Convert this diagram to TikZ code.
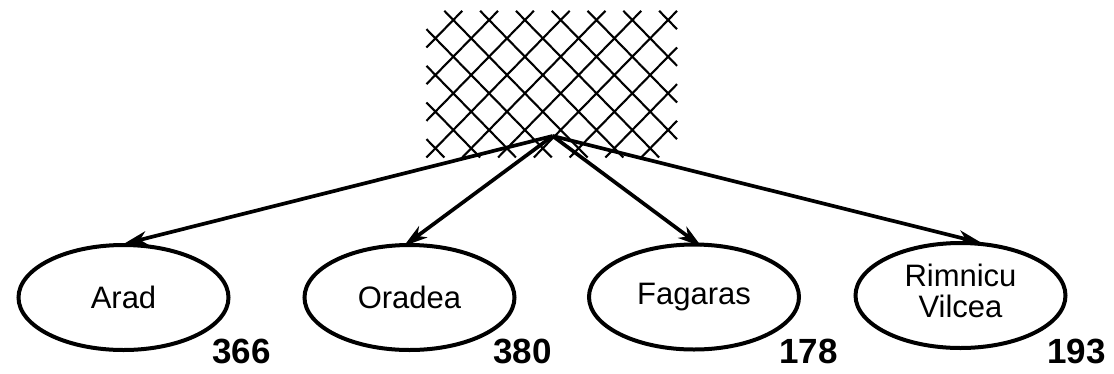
\documentclass[tikz,border=0pt]{standalone}
\usepackage{fontspec}
\setmainfont{Liberation Sans}
\usetikzlibrary{shapes.geometric,arrows.meta,calc}
\tikzset{
  city/.style={ellipse, draw, line width=4pt, inner sep=0pt,
    minimum width=210pt, minimum height=105pt,
    font=\fontsize{31}{31}\selectfont, align=center},
  hval/.style={anchor=base, font=\fontsize{35}{35}\selectfont\bfseries, inner sep=0pt},
  hatch/.style={line width=2.1pt},
  edge/.style={line width=3.7pt, -{Stealth[length=24pt,width=14pt,inset=7pt]}}
}
\begin{document}
\begin{tikzpicture}[x=1pt,y=-1pt]
\useasboundingbox (0,0) rectangle (1114,373);
% cross-hatched region
\foreach \n in {0,...,7}{
  \pgfmathsetmacro{\yy}{20+18.33*\n}
  \pgfmathsetmacro{\xo}{mod(\n,2)==0 ? 453.3 : 435.4}
  \foreach \k in {0,...,6}{
    \pgfmathsetmacro{\xx}{\xo+35.8*\k}
    \draw[hatch] (\xx-8.95,\yy-9.17) -- (\xx+8.95,\yy+9.17)
                 (\xx-8.95,\yy+9.17) -- (\xx+8.95,\yy-9.17);
  }
}
\coordinate (apex) at (552.7,136);
\node[city] (arad) at (123.5,297.5) {Arad};
\node[city] (oradea) at (409.5,297.5) {Oradea};
\node[city] (fagaras) at (694,297) {Fagaras};
\node[city] (rimnicu) at (960.5,295.5) {\raisebox{4pt}{\begin{tabular}{@{}c@{}}Rimnicu\\Vilcea\end{tabular}}};
\node[hval] (h1) at (241.5,363) {366};
\node[hval] (h2) at (522.5,363) {380};
\node[hval] (h3) at (808.5,363) {178};
\node[hval] (h4) at (1076.5,363) {193};
\draw[edge] (apex) -- ($(arad.north)+(0,1)$);
\draw[edge] (apex) -- ($(oradea.96)+(0,3)$);
\draw[edge] (apex) -- ($(fagaras.82)+(0,4)$);
\draw[edge] (apex) -- ($(rimnicu.68)+(0,1)$);
\end{tikzpicture}
\end{document}
